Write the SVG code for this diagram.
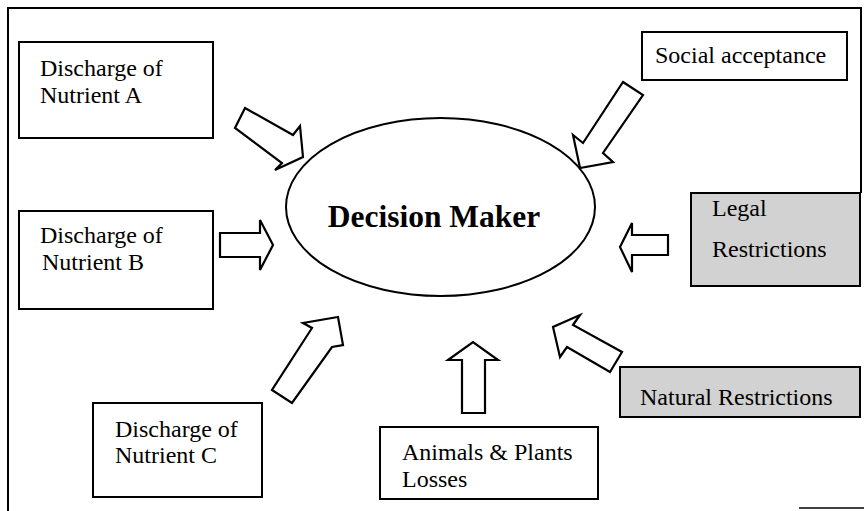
<svg xmlns="http://www.w3.org/2000/svg" width="864" height="511" viewBox="0 0 864 511">
<style>
.box{fill:#fff;stroke:#000;stroke-width:2}
.gray{fill:#d2d2d2;stroke:#000;stroke-width:2}
.t{font-family:"Liberation Serif","Times New Roman",serif;font-size:24px;fill:#000}
.arr{fill:#fff;stroke:#000;stroke-width:2.2;stroke-linejoin:miter}
.frame{fill:none;stroke:#000;stroke-width:2}
</style>
<rect width="864" height="511" fill="#fff"/>
<path class="frame" d="M8,511 V8 H861 V193"/>
<line x1="799" y1="508" x2="864" y2="508" stroke="#000" stroke-width="1.5"/>

<g id="decision-maker">
<ellipse cx="440.5" cy="207" rx="154.5" ry="89" fill="#fff" stroke="#000" stroke-width="2"/>
<text x="434" y="227" text-anchor="middle" font-family="Liberation Serif, Times New Roman, serif" font-size="31.5" font-weight="bold">Decision Maker</text>
</g>

<g id="nutrient-a">
<rect class="box" x="19" y="42" width="194" height="96"/>
<text class="t" x="40" y="76">Discharge of</text>
<text class="t" x="40" y="103">Nutrient A</text>
</g>

<g id="nutrient-b">
<rect class="box" x="19" y="211" width="194" height="98"/>
<text class="t" x="40" y="243">Discharge of</text>
<text class="t" x="42" y="270">Nutrient B</text>
</g>

<g id="nutrient-c">
<rect class="box" x="93" y="403" width="169" height="94"/>
<text class="t" x="115" y="437">Discharge of</text>
<text class="t" x="115" y="463">Nutrient C</text>
</g>

<g id="animals-plants">
<rect class="box" x="380" y="427" width="218" height="72"/>
<text class="t" x="402" y="460">Animals &amp; Plants</text>
<text class="t" x="402" y="487">Losses</text>
</g>

<g id="social-acceptance">
<rect class="box" x="642" y="32" width="205" height="48"/>
<text class="t" x="655" y="63">Social acceptance</text>
</g>

<g id="legal-restrictions">
<rect class="gray" x="691" y="193" width="169" height="93"/>
<text class="t" x="712" y="216">Legal</text>
<text class="t" x="712" y="257">Restrictions</text>
</g>

<g id="natural-restrictions">
<rect class="gray" x="620" y="367" width="240" height="50"/>
<text class="t" x="640" y="405">Natural Restrictions</text>
</g>

<g id="connectors">
<polygon class="arr" points="245,108 293,135 300,126 303,157 275,170 282,163 235,128"/>
<polygon class="arr" points="623,82 643,95 603,153 613,162 580,168 573,135 583,143"/>
<polygon class="arr" points="220,233 260,233 260,220 273,245 260,270 260,257 220,257"/>
<polygon class="arr" points="668,235 632,235 632,223 620,247 632,272 632,255 668,255"/>
<polygon class="arr" points="272,390 292,403 332,347 343,345 338,317 303,323 312,328"/>
<polygon class="arr" points="462,413 485,413 485,360 498,360 473,342 448,360 462,360"/>
<polygon class="arr" points="622,352 610,372 567,347 560,357 553,327 580,315 573,325"/>
</g>
</svg>
